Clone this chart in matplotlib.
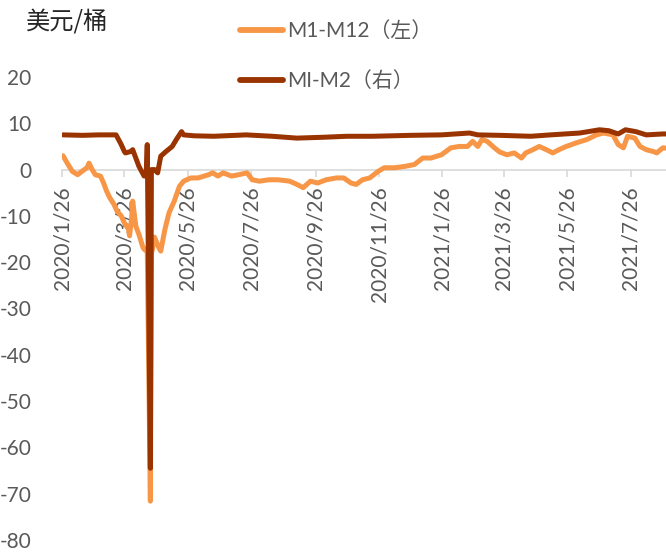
import matplotlib
matplotlib.use("Agg")
import matplotlib.pyplot as plt
import pandas as pd

# ---------------- data ----------------
m1m12_dates = [
    "2020-01-27", "2020-01-31", "2020-02-05", "2020-02-10", "2020-02-14", "2020-02-19",
    "2020-02-21", "2020-02-24", "2020-02-27", "2020-03-03", "2020-03-06", "2020-03-09",
    "2020-03-12", "2020-03-16", "2020-03-19", "2020-03-23", "2020-03-26", "2020-03-30",
    "2020-03-31", "2020-04-02", "2020-04-03", "2020-04-06", "2020-04-09", "2020-04-13",
    "2020-04-14", "2020-04-16", "2020-04-17", "2020-04-20", "2020-04-21", "2020-04-22",
    "2020-04-24", "2020-04-28", "2020-04-30", "2020-05-04", "2020-05-08", "2020-05-13",
    "2020-05-18", "2020-05-22", "2020-05-29", "2020-06-05", "2020-06-15", "2020-06-19",
    "2020-06-24", "2020-06-29", "2020-07-07", "2020-07-14", "2020-07-22", "2020-07-27",
    "2020-08-03", "2020-08-12", "2020-08-21", "2020-09-01", "2020-09-08", "2020-09-14",
    "2020-09-21", "2020-09-28", "2020-10-06", "2020-10-16", "2020-10-23", "2020-10-30",
    "2020-11-04", "2020-11-10", "2020-11-17", "2020-11-25", "2020-12-01", "2020-12-11",
    "2020-12-21", "2020-12-30", "2021-01-07", "2021-01-15", "2021-01-25", "2021-02-03",
    "2021-02-11", "2021-02-19", "2021-02-24", "2021-03-01", "2021-03-05", "2021-03-10",
    "2021-03-17", "2021-03-22", "2021-03-29", "2021-04-05", "2021-04-12", "2021-04-16",
    "2021-04-23", "2021-04-29", "2021-05-06", "2021-05-12", "2021-05-18", "2021-05-25",
    "2021-06-04", "2021-06-14", "2021-06-23", "2021-06-30", "2021-07-09", "2021-07-14",
    "2021-07-19", "2021-07-23", "2021-07-30", "2021-08-04", "2021-08-10", "2021-08-17",
    "2021-08-20", "2021-08-26", "2021-08-31",
]
m1m12_values = [
    3.0, 1.4, -0.4, -1.1, -0.4, 0.4,
    1.4, 0.0, -1.1, -1.4, -2.9, -4.7,
    -6.1, -7.5, -9.0, -10.0, -11.5, -12.9,
    -14.3, -10.4, -6.8, -12.2, -14.0, -16.9,
    -17.2, -17.5, -17.0, -71.6, -18.0, -17.2,
    -14.6, -16.8, -17.6, -12.9, -9.3, -6.8,
    -3.6, -2.5, -1.8, -1.8, -1.1, -0.7,
    -1.4, -0.7, -1.4, -1.1, -0.7, -2.2,
    -2.5, -2.2, -2.2, -2.5, -3.2, -3.9,
    -2.5, -2.9, -2.2, -1.8, -1.8, -2.9,
    -3.2, -2.2, -1.8, -0.4, 0.4, 0.4,
    0.7, 1.1, 2.5, 2.5, 3.2, 4.7,
    5.0, 5.0, 6.1, 5.0, 6.5, 6.1,
    4.7, 3.8, 3.2, 3.6, 2.5, 3.6,
    4.3, 5.0, 4.3, 3.6, 4.3, 5.0,
    5.8, 6.5, 7.5, 7.9, 7.5, 5.4,
    4.7, 7.2, 6.8, 5.0, 4.3, 3.9,
    3.6, 4.7, 4.6,
]

m1m2_dates = [
    "2020-01-27", "2020-02-15", "2020-03-01", "2020-03-18", "2020-03-23", "2020-03-26",
    "2020-03-27", "2020-04-01", "2020-04-03", "2020-04-06", "2020-04-09", "2020-04-14",
    "2020-04-16", "2020-04-17", "2020-04-20", "2020-04-21", "2020-04-24", "2020-04-27",
    "2020-04-30", "2020-05-05", "2020-05-11", "2020-05-15", "2020-05-20", "2020-05-22",
    "2020-06-01", "2020-06-20", "2020-07-21", "2020-08-15", "2020-09-08", "2020-10-05",
    "2020-10-26", "2020-11-20", "2020-12-26", "2021-01-25", "2021-02-21", "2021-03-01",
    "2021-03-22", "2021-04-21", "2021-05-10", "2021-06-07", "2021-06-26", "2021-07-05",
    "2021-07-14", "2021-07-21", "2021-07-31", "2021-08-10", "2021-08-26", "2021-08-31",
]
m1m2_values = [
    7.5, 7.4, 7.5, 7.5, 5.4, 3.9,
    3.6, 3.9, 4.3, 2.5, 0.7, -1.4,
    -1.1, 5.4, -64.5, 0.0, 0.0, -0.7,
    2.9, 3.9, 5.0, 6.5, 8.2, 7.5,
    7.3, 7.2, 7.5, 7.2, 6.8, 7.0,
    7.2, 7.2, 7.4, 7.5, 7.9, 7.5,
    7.4, 7.2, 7.5, 7.9, 8.6, 8.4,
    7.7, 8.6, 8.2, 7.5, 7.7, 7.7,
]

tick_dates = ["2020-01-26", "2020-03-26", "2020-05-26", "2020-07-26", "2020-09-26",
              "2020-11-26", "2021-01-26", "2021-03-26", "2021-05-26", "2021-07-26"]
tick_labels = ["2020/1/26", "2020/3/26", "2020/5/26", "2020/7/26", "2020/9/26",
               "2020/11/26", "2021/1/26", "2021/3/26", "2021/5/26", "2021/7/26"]
y_ticks = [20, 10, 0, -10, -20, -30, -40, -50, -60, -70, -80]

title_text = "美元/桶"
label_m1m12 = "M1-M12（左）"
label_m1m2 = "MI-M2（右）"

# ---------------- figure ----------------
W, H = 666, 553
fig = plt.figure(figsize=(W / 100, H / 100), dpi=100)
ax = fig.add_axes([62 / W, 1 - 540 / H, 1 - 62 / W, (540 - 77) / H])

orange = "#F79646"
dark = "#993300"
gray_txt = "#595959"
fam = ["Lato", "Noto Sans CJK SC", "DejaVu Sans"]

x1 = pd.to_datetime(m1m12_dates)
x2 = pd.to_datetime(m1m2_dates)
ax.plot(x1, m1m12_values, color=orange, lw=3.6, solid_joinstyle="round",
        solid_capstyle="round", label=label_m1m12, zorder=3)
ax.plot(x2, m1m2_values, color=dark, lw=3.6, solid_joinstyle="round",
        solid_capstyle="round", label=label_m1m2, zorder=4)

ax.set_xlim(pd.Timestamp("2020-01-26"), pd.Timestamp("2021-08-29"))
ax.set_ylim(-80, 20)

for s in ["top", "right", "left"]:
    ax.spines[s].set_visible(False)
ax.spines["bottom"].set_position(("data", 0))
ax.spines["bottom"].set_color("#D9D9D9")
ax.spines["bottom"].set_linewidth(1.2)

ax.set_xticks(pd.to_datetime(tick_dates))
ax.set_xticklabels(tick_labels, rotation=90, fontsize=15, color=gray_txt,
                   family=fam, va="top", ha="center")
ax.tick_params(axis="x", length=5, width=1.2, color="#D9D9D9", pad=7, direction="out")

ax.set_yticks(y_ticks)
ax.set_yticklabels([str(v) for v in y_ticks], fontsize=15, color=gray_txt, family=fam)
ax.tick_params(axis="y", length=0, pad=22)

fig.text(26 / W, 1 - 23 / H, title_text, fontsize=17.5, color="#262626",
         family=["Noto Sans CJK SC", "DejaVu Sans"], ha="left", va="center")

leg = fig.legend(loc="upper left", bbox_to_anchor=(240 / W, 1 - 21 / H),
                 frameon=False, borderpad=0, borderaxespad=0,
                 handlelength=2.05, handletextpad=0.2, labelspacing=1.45,
                 prop={"family": fam, "size": 15})
for t in leg.get_texts():
    t.set_color(gray_txt)
for h in leg.legend_handles:
    h.set_linewidth(4.2)

fig.savefig("out.png", dpi=100)
